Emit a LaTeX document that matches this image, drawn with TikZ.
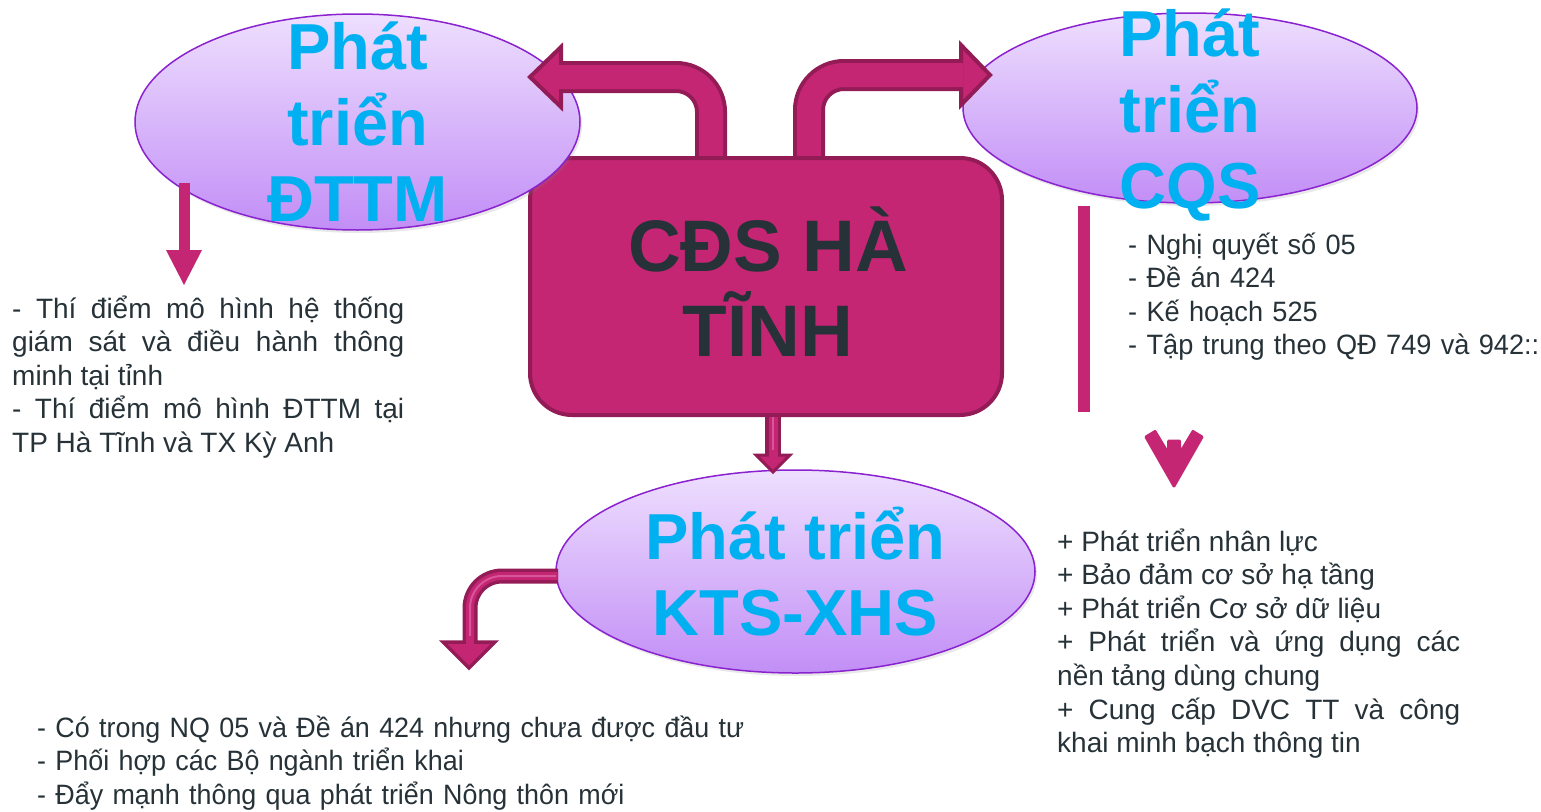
\documentclass[tikz,border=0pt]{standalone}
\usepackage{fontspec}
\setmainfont{Liberation Sans}
\newfontfamily\narrowfont[FakeStretch=0.96]{Liberation Sans}
\newfontfamily\slimfont[FakeStretch=0.97]{Liberation Sans}
\usetikzlibrary{calc,shapes.geometric,shadows}

\definecolor{mag}{HTML}{C42674}
\definecolor{magdark}{HTML}{941C56}
\definecolor{maglight}{HTML}{D9559A}
\definecolor{lavtop}{HTML}{EEDFFE}
\definecolor{lavbot}{HTML}{C28EF6}
\definecolor{lavline}{HTML}{8A22D0}
\definecolor{titlecyan}{HTML}{00B0F0}
\definecolor{ink}{HTML}{263238}

\tolerance=10000
\hbadness=10000

\tikzstyle{blob} = [ellipse, draw=lavline, line width=1.5pt, top color=lavtop, bottom color=lavbot, inner sep=0pt, outer sep=0pt, drop shadow={opacity=0.18, shadow xshift=2pt, shadow yshift=-3pt}]
\tikzstyle{blobtext} = [text=titlecyan, font=\fontsize{65}{76}\selectfont\bfseries, align=center, inner sep=0pt]
\tikzstyle{hub} = [rectangle, rounded corners=42pt, draw=magdark, line width=4pt, fill=mag, outer sep=0pt]
\tikzstyle{hubtext} = [text=ink, font=\fontsize{73}{85}\selectfont\bfseries, align=center, inner sep=0pt]
\tikzstyle{body} = [text=ink, font=\fontsize{28}{33.6}\selectfont, inner sep=0pt, anchor=base west]
\tikzstyle{shaftout} = [magdark, line width=32pt, rounded corners=35pt]
\tikzstyle{shaftin} = [mag, line width=24pt, rounded corners=35pt]
\tikzstyle{thinout} = [magdark, line width=15pt, rounded corners=32pt]
\tikzstyle{thinin} = [mag, line width=8pt, rounded corners=32pt]
\tikzstyle{thinmid} = [maglight, line width=2pt, rounded corners=32pt]
\tikzstyle{head} = [fill=mag, draw=magdark, line width=4pt, line join=miter]

\begin{document}
\begin{tikzpicture}[x=1pt, y=-1pt]
  \useasboundingbox (0,0) rectangle (1541,811);

  \node (cds) [hub, minimum width=472pt, minimum height=257pt] at (766,286.5) {};
  \node (cdslabel) [hubtext, yshift=5pt] at (768,286.5) {CĐS HÀ\\TĨNH};

  \node (dttm) [blob, minimum width=445pt, minimum height=216pt] at (357.5,122) {};
  \node (cqs) [blob, minimum width=454pt, minimum height=190pt] at (1190,108) {};
  \node (kts) [blob, minimum width=479pt, minimum height=203pt] at (795.5,571.5) {};

  \node (dttmlabel) [blobtext] at (dttm) {Phát\\triển\\ĐTTM};
  \node (cqslabel) [blobtext, yshift=-7pt] at (cqs) {Phát\\triển\\CQS};
  \node (ktslabel) [blobtext] at (kts) {Phát triển\\KTS-XHS};

  % bent arrows out of the hub
  \coordinate (dttmtip) at (530,77);
  \coordinate (cqstip) at (990,75);
  \draw [shaftout] ($(cds.north)+(-55,0)$) |- (561,77);
  \draw [shaftin] ($(cds.north)+(-55,0)$) |- (561,77);
  \draw [head] (561,47) -- (dttmtip) -- (561,107) -- cycle;
  \draw [mag, line width=24pt] (566,77) -- (559,77);
  \draw [shaftout] ($(cds.north)+(43,0)$) |- (961,75);
  \draw [shaftin] ($(cds.north)+(43,0)$) |- (961,75);
  \draw [head] (961,45) -- (cqstip) -- (961,105) -- cycle;
  \draw [mag, line width=24pt] (956,75) -- (963,75);
  \draw [magdark, line width=4pt] ($(cds.north)+(-80,0)$) -- ($(cds.north)+(60,0)$);

  % hub down to KTS
  \coordinate (ktstip) at (773,472);
  \draw [magdark, line width=16pt] ($(cds.south)+(7,0)$) -- (773,457);
  \draw [mag, line width=9pt] ($(cds.south)+(7,2)$) -- (773,457);
  \draw [maglight, line width=2pt] ($(cds.south)+(7,2)$) -- (773,455);
  \draw [head, line width=3pt] (756,455) -- (ktstip) -- (790,455) -- cycle;
  \draw [mag, line width=9pt] (773,450) -- (773,457);

  % KTS to its notes
  \coordinate (ktsfoot) at (469,668);
  \draw [thinout] ($(kts.west)+(2,4.5)$) -| (470,643);
  \draw [thinin] ($(kts.west)+(2,4.5)$) -| (470,643);
  \draw [thinmid] ($(kts.west)+(0,4.5)$) -| (470,643);
  \draw [head, line width=3.5pt] (443,642) -- (ktsfoot) -- (495,642) -- cycle;
  \draw [mag, line width=8pt] (470,636) -- (470,645);

  % DTTM to its notes
  \coordinate (dttmfoot) at (184,285);
  \fill [mag] (178.5,183) rectangle (189.5,251);
  \fill [mag] (166,250) -- (dttmfoot) -- (202,250) -- cycle;

  % CQS bar and chevron
  \fill [mag] (1078,206) rectangle (1090,412);
  \coordinate (cqsfoot) at (1174,486);
  \filldraw [mag, line width=3pt, line join=round] (1168.5,441) -- (1168.5,454) -- (1155,431.5) -- (1146,437) -- (cqsfoot) -- (1202,437) -- (1193,431.5) -- (1179.5,454) -- (1179.5,441) -- cycle;

  \node (dttmnote) [body, text width=392pt, align=justify] at (12,318) {- Thí điểm mô hình hệ thống\linebreak giám sát và điều hành thông\linebreak minh tại tỉnh\\- Thí điểm mô hình ĐTTM tại\linebreak TP Hà Tĩnh và TX Kỳ Anh};
  \node (cqsnote) [body, text width=420pt, align=left] at (1128,254) {\slimfont - Nghị quyết số 05\\- Đề án 424\\- Kế hoạch 525\\- Tập trung theo QĐ 749 và 942::};
  \node (cqslist) [body, text width=403pt, align=justify] at (1057,551) {+ Phát triển nhân lực\\+ Bảo đảm cơ sở hạ tầng\\+ Phát triển Cơ sở dữ liệu\\+ Phát triển và ứng dụng các\linebreak nền tảng dùng chung\\+ Cung cấp DVC TT và công\linebreak khai minh bạch thông tin};
  \node (ktsnote) [body, text width=730pt, align=left] at (37,737) {\narrowfont - Có trong NQ 05 và Đề án 424 nhưng chưa được đầu tư\\- Phối hợp các Bộ ngành triển khai\\- Đẩy mạnh thông qua phát triển Nông thôn mới};
\end{tikzpicture}
\end{document}
